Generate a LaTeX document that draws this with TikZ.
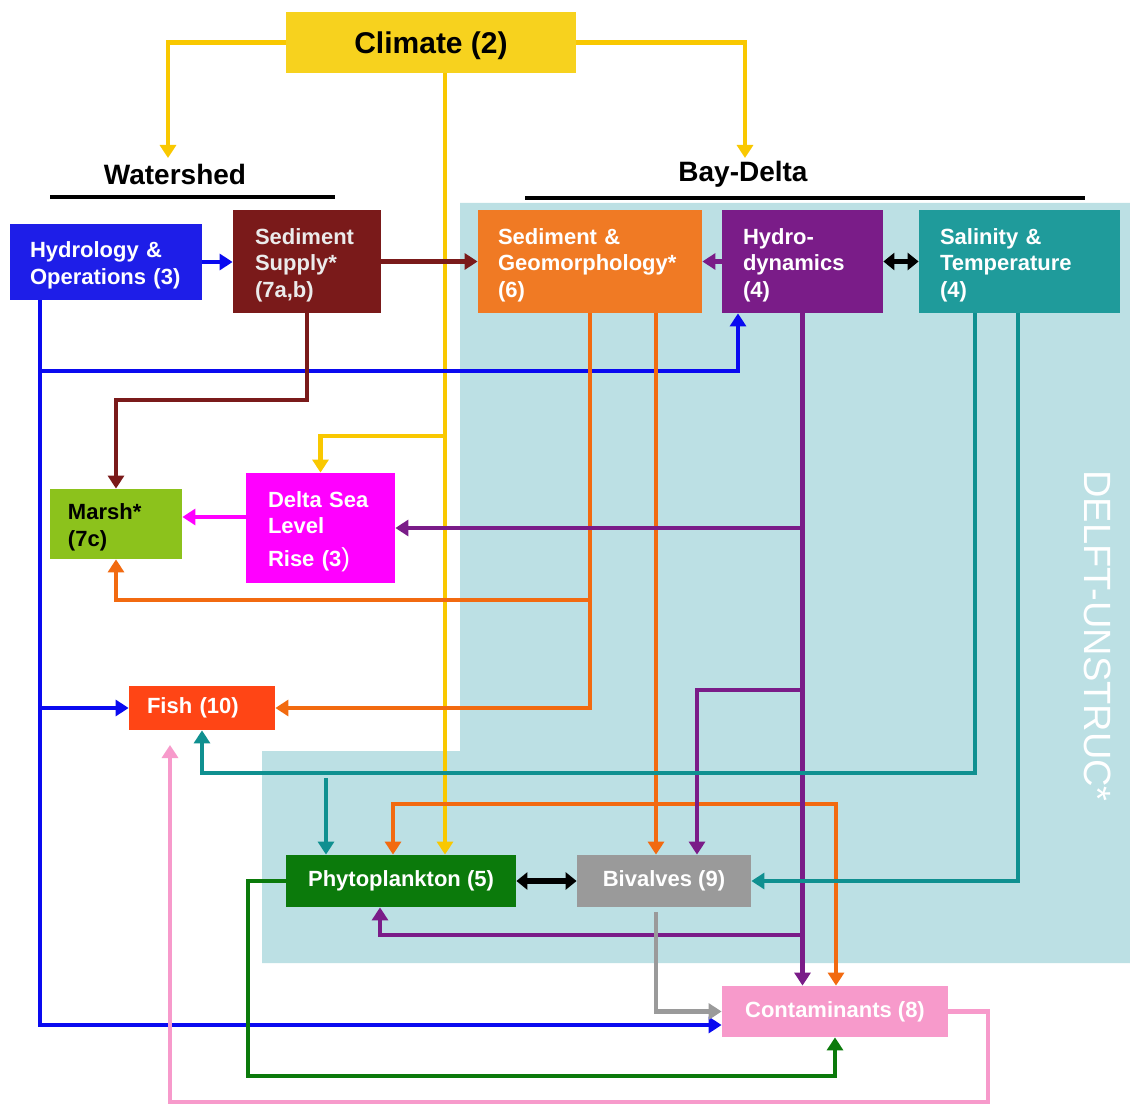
\documentclass[tikz,border=0pt]{standalone}
\usepackage{fontspec}
\setmainfont{Liberation Sans}
\usetikzlibrary{arrows.meta}
\definecolor{cyelbox}{HTML}{F7D21E}
\definecolor{cyel}{HTML}{F9C800}
\definecolor{cblue}{HTML}{1E1EE8}
\definecolor{cbline}{HTML}{0A0AF0}
\definecolor{cdred}{HTML}{7A1A1A}
\definecolor{corbox}{HTML}{F07A24}
\definecolor{corange}{HTML}{F26A10}
\definecolor{cpurple}{HTML}{7A1C88}
\definecolor{cteal}{HTML}{1F9B9B}
\definecolor{ctline}{HTML}{0F9090}
\definecolor{cmarsh}{HTML}{8CC21C}
\definecolor{cmag}{HTML}{FF00FF}
\definecolor{cfish}{HTML}{FF4515}
\definecolor{cgreen}{HTML}{0B7A0B}
\definecolor{cgray}{HTML}{9A9A9A}
\definecolor{cpink}{HTML}{F79ACB}
\definecolor{cbg}{HTML}{BCE0E4}
\newcommand{\tsh}{\rule{0pt}{11.5pt}}
\begin{document}
\begin{tikzpicture}[x=0.5pt,y=-0.5pt,
  bxl/.style={rectangle, draw=none, text=white, align=left, inner ysep=0pt,
    font=\bfseries\fontsize{11}{13.3}\selectfont},
  bxc/.style={rectangle, draw=none, text=white, align=center, inner sep=0pt,
    font=\bfseries\fontsize{11}{13.3}\selectfont},
  lbl/.style={font=\bfseries\fontsize{14}{16}\selectfont, inner sep=0pt},
  con/.style={line width=2.1pt, -{Triangle[length=6.5pt,width=8pt]}},
  dbl/.style={line width=2.6pt, {Triangle[length=5.5pt,width=8.5pt]}-{Triangle[length=5.5pt,width=8.5pt]}}
]
\useasboundingbox (0,0) rectangle (1130,1106);
\fill[white] (0,0) rectangle (1130,1106);
% DELFT background
\fill[cbg] (460,203) -- (1130,203) -- (1130,963) -- (262,963) -- (262,751) -- (460,751) -- cycle;
\node[rotate=-90, text=white, inner sep=0pt, font=\fontsize{19}{20}\selectfont] (delft) at (1098,636) {DELFT-UNSTRUC*};

% headings
\node[lbl] (ws) at (175,174) {Watershed};
\node[lbl] (bd) at (743,174) {Bay-Delta};
\draw[line width=2.3pt] (50,197) -- (335,197);
\draw[line width=2.3pt] (525,198) -- (1085,198);

% nodes
\node[rectangle, fill=cyelbox, minimum width=145pt, minimum height=30.5pt, inner sep=0pt] (clim) at (431,42.5) {};
\node[inner sep=0pt, font=\bfseries\fontsize{15}{18}\selectfont] (climt) at ([yshift=-1.5pt]clim.center) {Climate (2)};
\node[bxl, fill=cblue, minimum width=96pt, minimum height=38pt, text width=76pt, inner xsep=10pt] (hyd) at (106,262) {\tsh Hydrology \&\\Operations (3)};
\node[bxl, fill=cdred, text=white!92!black, minimum width=74pt, minimum height=51.5pt, text width=52pt, inner xsep=11pt] (sedsup) at (307,261.5) {\tsh Sediment\\Supply*\\(7a,b)};
\node[bxl, fill=corbox, minimum width=112pt, minimum height=51.5pt, text width=92pt, inner xsep=10pt] (sedgeo) at (590,261.5) {\tsh Sediment \&\\Geomorphology*\\(6)};
\node[bxl, fill=cpurple, minimum width=80.5pt, minimum height=51.5pt, text width=59.5pt, inner xsep=10.5pt] (hdyn) at (802.5,261.5) {\tsh Hydro-\\dynamics\\(4)};
\node[bxl, fill=cteal, minimum width=100.5pt, minimum height=51.5pt, text width=79.5pt, inner xsep=10.5pt] (salin) at (1019.5,261.5) {\tsh Salinity \&\\Temperature\\(4)};
\node[bxl, fill=cmarsh, text=black, minimum width=66pt, minimum height=35pt, text width=48pt, inner xsep=9pt] (marsh) at (116,524) {\tsh Marsh*\\(7c)};
\node[bxl, fill=cmag, minimum width=74.5pt, minimum height=55pt, text width=52.5pt, inner xsep=11pt] (slr) at (320.5,528) {\tsh Delta Sea\\Level\\[3pt]Rise (3{\fontsize{13}{13}\selectfont\mdseries)}};
\node[bxl, fill=cfish, minimum width=73pt, minimum height=22pt, text width=55pt, inner xsep=9pt] (fish) at (202,708) {Fish (10)};
\node[bxc, fill=cgreen, minimum width=115pt, minimum height=26pt] (phyto) at (401,881) {Phytoplankton (5)};
\node[bxc, fill=cgray, minimum width=87pt, minimum height=26pt] (biv) at (664,881) {Bivalves (9)};
\node[bxc, fill=cpink, minimum width=113pt, minimum height=25.5pt] (cont) at (835,1011.5) {Contaminants (8)};

% routing coordinates
\coordinate (wsin) at (168,158);
\coordinate (bdin) at (745,158);
\coordinate (yx) at (445,0);
\coordinate (yb) at (445,436);
\coordinate (bx) at (40,0);
\coordinate (bh) at (40,371);
\coordinate (hx) at (738,0);
\coordinate (bc) at (40,1025);
\coordinate (drb) at (0,400);
\coordinate (m1) at (0,517);
\coordinate (pbx) at (697,690);
\coordinate (ppx) at (380,935);
\coordinate (om) at (590,600);
\coordinate (o2) at (656,0);
\coordinate (o3a) at (393,804);
\coordinate (o3b) at (836,804);
\coordinate (t1) at (975,773);
\coordinate (t2) at (326,778);
\coordinate (t3) at (1018,0);
\coordinate (g1) at (656,912);
\coordinate (g2) at (248,1076);
\coordinate (p1) at (988,1102);
\coordinate (p2) at (170,745);

% yellow
\draw[con, cyel] (clim.west) -| (wsin);
\draw[con, cyel] (clim.east) -| (bdin);
\draw[con, cyel] (clim.south -| yx) -- (phyto.north -| yx);
\draw[con, cyel] (yb) -| (slr.north);

% blue
\draw[con, cbline] (hyd.east) -- (sedsup.west |- hyd.east);
\draw[con, cbline] (hyd.south -| bx) -- (bc) -- (cont.west |- bc);
\draw[con, cbline] (bx |- fish.west) -- (fish.west);
\draw[con, cbline] (bh) -| (hdyn.south -| hx);

% dark red
\draw[con, cdred] (sedsup.east) -- (sedgeo.west);
\draw[con, cdred] (sedsup.south) -- (sedsup.south |- drb) -| (marsh.north);

% magenta
\draw[con, cmag] (slr.west |- m1) -- (marsh.east |- m1);

% orange
\draw[con, corange] (sedgeo.south) |- (fish.east);
\draw[con, corange] (om) -| (marsh.south);
\draw[con, corange] (sedgeo.south -| o2) -- (biv.north -| o2);
\draw[con, corange] (o2 |- o3a) -- (o3a) -- (phyto.north -| o3a);
\draw[con, corange] (o2 |- o3a) -- (o3b) -- (cont.north -| o3b);

% purple
\draw[con, cpurple] (hdyn.west) -- (sedgeo.east);
\draw[con, cpurple] (hdyn.south) -- (cont.north -| hdyn.south);
\draw[con, cpurple] (hdyn.south |- slr.east) -- (slr.east);
\draw[con, cpurple] (hdyn.south |- pbx) -- (pbx) -- (biv.north -| pbx);
\draw[con, cpurple] (hdyn.south |- ppx) -- (ppx) -- (phyto.south -| ppx);

% teal
\draw[con, ctline] (salin.south -| t1) -- (t1) -| (fish.south);
\draw[con, ctline] (t2) -- (phyto.north -| t2);
\draw[con, ctline] (salin.south -| t3) |- (biv.east);

% black double arrows
\draw[dbl] (hdyn.east) -- (salin.west);
\draw[dbl] (phyto.east) -- (biv.west);

% gray
\draw[con, cgray] (g1) |- (cont.west);

% green
\draw[con, cgreen] (phyto.west) -| (g2) -| (cont.south);

% pink
\draw[con, cpink] (cont.east) -| (p1) -| (p2);
\end{tikzpicture}
\end{document}
